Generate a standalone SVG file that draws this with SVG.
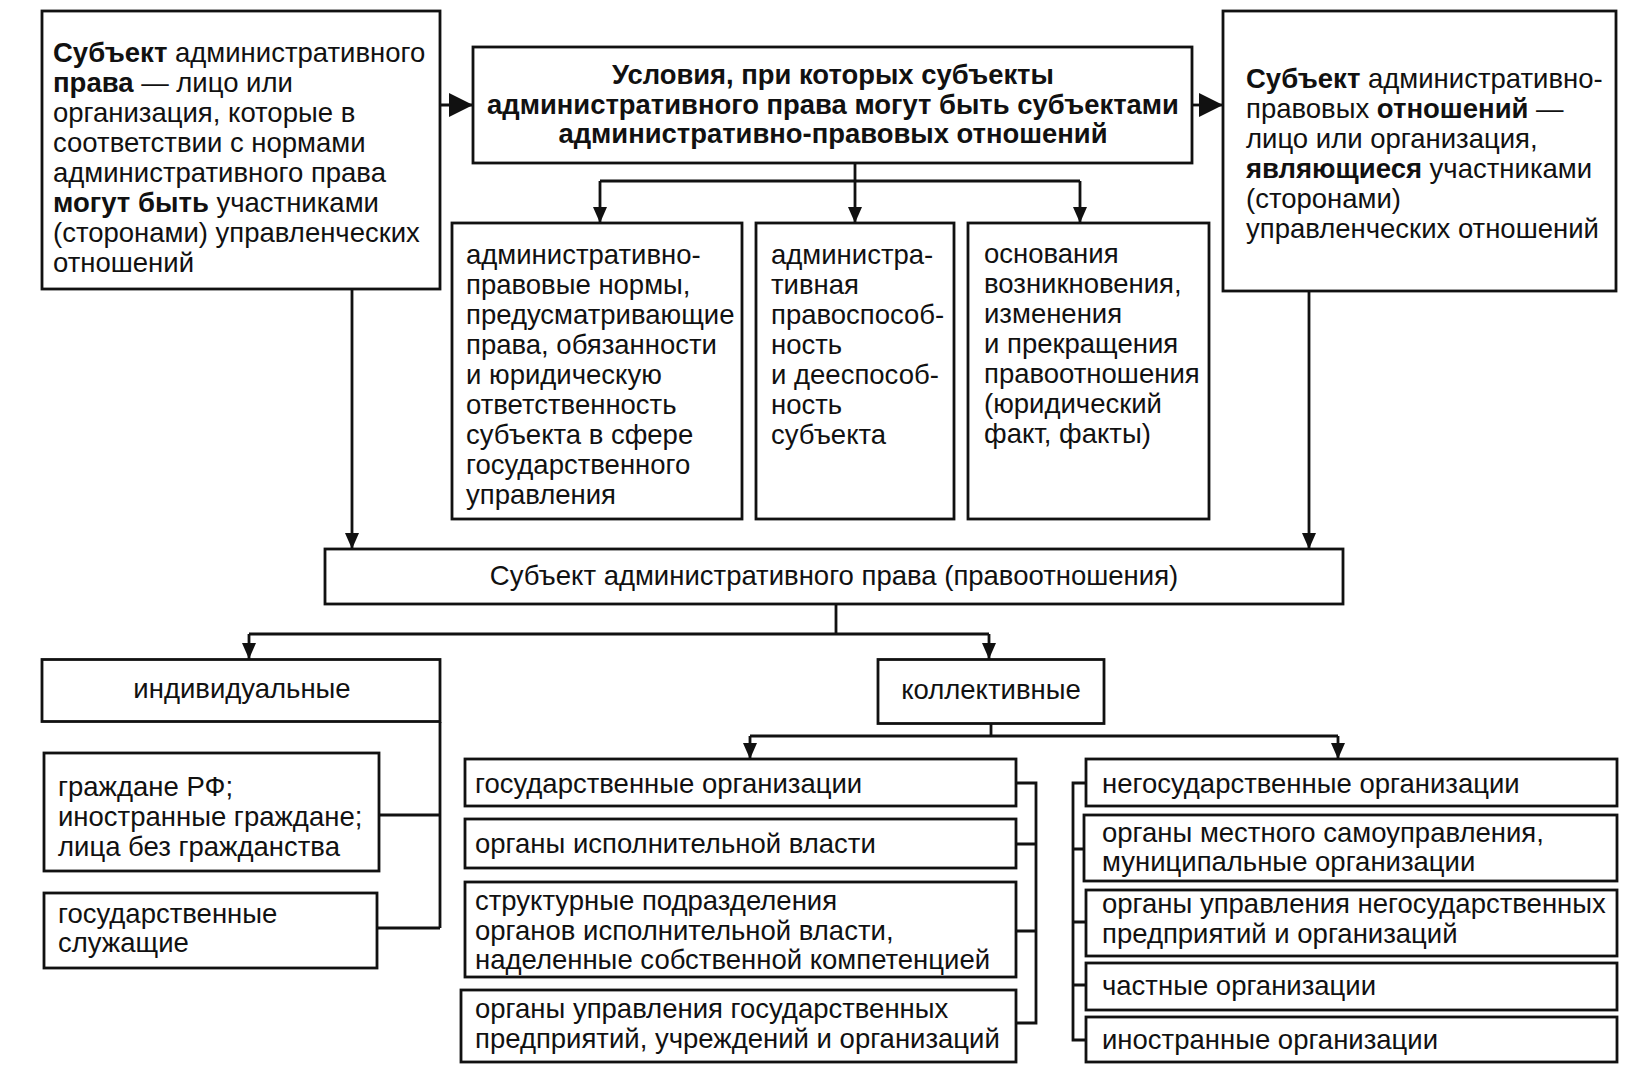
<svg xmlns="http://www.w3.org/2000/svg" width="1649" height="1080" viewBox="0 0 1649 1080">
<style>
.box{fill:#fff;stroke:#111;stroke-width:2.8}
.t{font-family:"Liberation Sans",Arial,sans-serif;font-size:27.5px;fill:#111}
.b{font-weight:bold}
.h{font-size:27.4px}
.c{text-anchor:middle}
.conn{fill:none;stroke:#111;stroke-width:2.8}
</style>
<defs>
<marker id="a" markerUnits="userSpaceOnUse" viewBox="0 0 16 14" refX="16" refY="7" markerWidth="16" markerHeight="14" orient="auto"><path d="M0,0 L16,7 L0,14 z" fill="#111"/></marker>
<marker id="A" markerUnits="userSpaceOnUse" viewBox="0 0 24 24" refX="24" refY="12" markerWidth="24" markerHeight="24" orient="auto"><path d="M0,0 L24,12 L0,24 z" fill="#111"/></marker>
</defs>
<rect width="1649" height="1080" fill="#fff"/>
<g id="connectors">
<path class="conn" d="M440,105 H473" marker-end="url(#A)"/>
<path class="conn" d="M1192,105 H1223" marker-end="url(#A)"/>
<path class="conn" d="M600,181 H1080"/>
<path class="conn" d="M600,181 V223" marker-end="url(#a)"/>
<path class="conn" d="M855,163 V223" marker-end="url(#a)"/>
<path class="conn" d="M1080,181 V223" marker-end="url(#a)"/>
<path class="conn" d="M352,289 V549" marker-end="url(#a)"/>
<path class="conn" d="M1309,291 V549" marker-end="url(#a)"/>
<path class="conn" d="M836,604 V634 M249,634 H989"/>
<path class="conn" d="M249,634 V659" marker-end="url(#a)"/>
<path class="conn" d="M989,634 V659" marker-end="url(#a)"/>
<path class="conn" d="M440,722 V928 M379,815 H440 M377,928 H440"/>
<path class="conn" d="M991,724 V736 M750,736 H1338"/>
<path class="conn" d="M750,736 V759" marker-end="url(#a)"/>
<path class="conn" d="M1338,736 V759" marker-end="url(#a)"/>
<path class="conn" d="M1016,783 H1036 V1023 H1016 M1016,844 H1036 M1016,931 H1036"/>
<path class="conn" d="M1086,783 H1073 V1040 H1086 M1073,849 H1084 M1073,922 H1086 M1073,985 H1086"/>
</g>
<g id="subject-admin-law">
<rect class="box" x="42" y="11" width="398" height="278"/>
<text class="t" x="53" y="62"><tspan class="b">Субъект</tspan> административного</text>
<text class="t" x="53" y="92"><tspan class="b">права</tspan> — лицо или</text>
<text class="t" x="53" y="122">организация, которые в</text>
<text class="t" x="53" y="152">соответствии с нормами</text>
<text class="t" x="53" y="182">административного права</text>
<text class="t" x="53" y="212"><tspan class="b">могут быть</tspan> участниками</text>
<text class="t" x="53" y="242">(сторонами) управленческих</text>
<text class="t" x="53" y="272">отношений</text>
</g>
<g id="conditions">
<rect class="box" x="473" y="47" width="719" height="116"/>
<text class="t b c h" x="833" y="84">Условия, при которых субъекты</text>
<text class="t b c h" x="833" y="114">административного права могут быть субъектами</text>
<text class="t b c h" x="833" y="143">административно-правовых отношений</text>
</g>
<g id="subject-relations">
<rect class="box" x="1223" y="11" width="393" height="280"/>
<text class="t" x="1246" y="88"><tspan class="b">Субъект</tspan> административно-</text>
<text class="t" x="1246" y="118">правовых <tspan class="b">отношений</tspan> —</text>
<text class="t" x="1246" y="148">лицо или организация,</text>
<text class="t" x="1246" y="178"><tspan class="b">являющиеся</tspan> участниками</text>
<text class="t" x="1246" y="208">(сторонами)</text>
<text class="t" x="1246" y="238">управленческих отношений</text>
</g>
<g id="norms">
<rect class="box" x="452" y="223" width="290" height="296"/>
<text class="t" x="466" y="264">административно-</text>
<text class="t" x="466" y="294">правовые нормы,</text>
<text class="t" x="466" y="324">предусматривающие</text>
<text class="t" x="466" y="354">права, обязанности</text>
<text class="t" x="466" y="384">и юридическую</text>
<text class="t" x="466" y="414">ответственность</text>
<text class="t" x="466" y="444">субъекта в сфере</text>
<text class="t" x="466" y="474">государственного</text>
<text class="t" x="466" y="504">управления</text>
</g>
<g id="capacity">
<rect class="box" x="756" y="223" width="198" height="296"/>
<text class="t" x="771" y="264">администра-</text>
<text class="t" x="771" y="294">тивная</text>
<text class="t" x="771" y="324">правоспособ-</text>
<text class="t" x="771" y="354">ность</text>
<text class="t" x="771" y="384">и дееспособ-</text>
<text class="t" x="771" y="414">ность</text>
<text class="t" x="771" y="444">субъекта</text>
</g>
<g id="grounds">
<rect class="box" x="968" y="223" width="241" height="296"/>
<text class="t" x="984" y="263">основания</text>
<text class="t" x="984" y="293">возникновения,</text>
<text class="t" x="984" y="323">изменения</text>
<text class="t" x="984" y="353">и прекращения</text>
<text class="t" x="984" y="383">правоотношения</text>
<text class="t" x="984" y="413">(юридический</text>
<text class="t" x="984" y="443">факт, факты)</text>
</g>
<g id="subject-main">
<rect class="box" x="325" y="549" width="1018" height="55"/>
<text class="t c" x="834" y="585">Субъект административного права (правоотношения)</text>
</g>
<g id="individual">
<rect class="box" x="42" y="659.5" width="398" height="62"/>
<text class="t c" x="242" y="698">индивидуальные</text>
</g>
<g id="collective">
<rect class="box" x="878" y="659.5" width="226" height="64"/>
<text class="t c" x="991" y="699">коллективные</text>
</g>
<g id="citizens">
<rect class="box" x="44" y="753" width="335" height="118"/>
<text class="t" x="58" y="796">граждане РФ;</text>
<text class="t" x="58" y="826">иностранные граждане;</text>
<text class="t" x="58" y="856">лица без гражданства</text>
</g>
<g id="civil-servants">
<rect class="box" x="44" y="893" width="333" height="75"/>
<text class="t" x="58" y="923">государственные</text>
<text class="t" x="58" y="952">служащие</text>
</g>
<g id="state-orgs">
<rect class="box" x="465" y="759" width="551" height="47"/>
<text class="t" x="475" y="793">государственные организации</text>
</g>
<g id="exec-bodies">
<rect class="box" x="465" y="819" width="551" height="49"/>
<text class="t" x="475" y="853">органы исполнительной власти</text>
</g>
<g id="struct-units">
<rect class="box" x="465" y="882" width="551" height="95"/>
<text class="t" x="475" y="910">структурные подразделения</text>
<text class="t" x="475" y="940">органов исполнительной власти,</text>
<text class="t" x="475" y="969">наделенные собственной компетенцией</text>
</g>
<g id="state-mgmt">
<rect class="box" x="461" y="990" width="555" height="72"/>
<text class="t" x="475" y="1018">органы управления государственных</text>
<text class="t" x="475" y="1048">предприятий, учреждений и организаций</text>
</g>
<g id="nonstate-orgs">
<rect class="box" x="1086" y="759" width="531" height="47"/>
<text class="t" x="1102" y="793">негосударственные организации</text>
</g>
<g id="local-gov">
<rect class="box" x="1084" y="815" width="533" height="66"/>
<text class="t" x="1102" y="842">органы местного самоуправления,</text>
<text class="t" x="1102" y="871">муниципальные организации</text>
</g>
<g id="nonstate-mgmt">
<rect class="box" x="1086" y="890" width="531" height="66"/>
<text class="t" x="1102" y="913">органы управления негосударственных</text>
<text class="t" x="1102" y="943">предприятий и организаций</text>
</g>
<g id="private-orgs">
<rect class="box" x="1086" y="963" width="531" height="47"/>
<text class="t" x="1102" y="995">частные организации</text>
</g>
<g id="foreign-orgs">
<rect class="box" x="1086" y="1017" width="531" height="45"/>
<text class="t" x="1102" y="1049">иностранные организации</text>
</g>
</svg>
